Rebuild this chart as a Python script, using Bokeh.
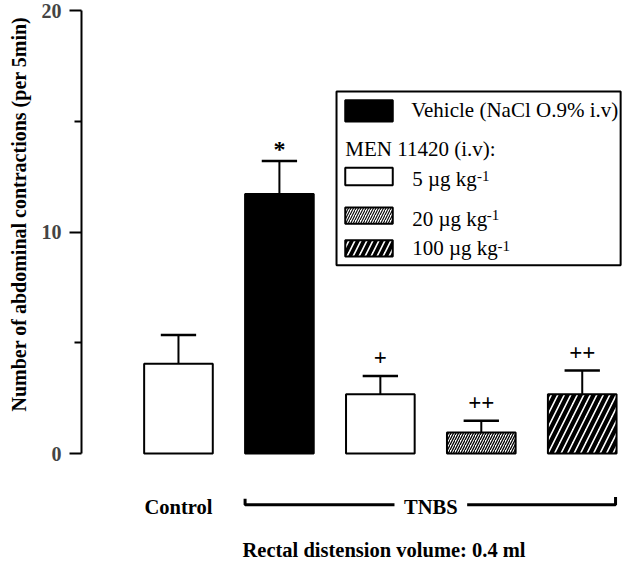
import numpy as np
from bokeh.plotting import figure
from bokeh.models import ColumnDataSource, LinearAxis, FixedTicker, Range1d, Title
from bokeh.core.properties import value
from bokeh.embed import file_html
from bokeh.resources import INLINE

# ---------------- data ----------------
groups = ["Control", "Vehicle", "5 µg kg-1", "20 µg kg-1", "100 µg kg-1"]
means = [4.05, 11.72, 2.68, 0.95, 2.67]
sems = [1.30, 1.48, 0.82, 0.53, 1.08]
marks = ["", "*", "+", "++", "++"]
y_ticks = [0, 10, 20]
y_minor = [5, 15]
vehicle_label = "Vehicle (NaCl O.9% i.v)"
legend_title = "MEN 11420 (i.v):"
legend_doses = ["5 µg kg", "20 µg kg", "100 µg kg"]
legend_sup = ["-1", "-1", "-1"]
group_labels = ["Control", "TNBS"]
x_label = "Rectal distension volume: 0.4 ml"
y_label = "Number of abdominal contractions (per 5min)"

SERIF = "Liberation Serif"
W, H = 624, 561
LEFT = 78
SX = 101.5      # px per x unit
SY = 22.15      # px per y unit
Y0 = 453        # canvas y of value 0

# helpers: reference-picture pixel -> data coordinates (layout only)
def X(px):
    return (px - 180.0) / 104.1

def Y(py):
    return (466.0 - py) / 22.95

x_start = X(80)
x_end = x_start + (W - LEFT) / SX
y_end = Y0 / SY
y_start = -(H - Y0) / SY

p = figure(width=W, height=H, x_range=Range1d(x_start, x_end), y_range=Range1d(y_start, y_end),
           x_axis_location=None, y_axis_location=None, toolbar_location=None,
           output_backend="svg", min_border_left=LEFT, min_border_right=0,
           min_border_top=0, min_border_bottom=0, outline_line_color=None,
           background_fill_color="white", border_fill_color="white")
p.grid.visible = False

yaxis = LinearAxis(ticker=FixedTicker(ticks=y_ticks, minor_ticks=y_minor), bounds=(0, 20),
                   axis_line_width=2, major_tick_line_width=2, minor_tick_line_width=2,
                   major_tick_in=0, major_tick_out=12, minor_tick_in=0, minor_tick_out=7,
                   major_label_text_font=SERIF, major_label_text_font_style="bold",
                   major_label_text_font_size="20px", major_label_standoff=8)
p.add_layout(yaxis, "left")

# y axis title (as a left title so it can sit outside the frame)
p.add_layout(Title(text=y_label, align="right", offset=16, text_font=SERIF,
                   text_font_style="bold", text_font_size="20px", standoff=14,
                   vertical_align="top", text_color="black"), "left")

# ---------------- bars ----------------
xs = list(range(len(groups)))
fills = ["white", "black", "white", "white", "white"]
hatches = [" ", " ", " ", "/", "/"]
hscale = [1, 1, 1, 5, 13]
hweight = [1, 1, 1, 1.3, 4.2]
src = ColumnDataSource(dict(x=xs, top=means, fill=fills, hatch=hatches, hs=hscale, hw=hweight))
p.vbar(x="x", top="top", bottom=0, width=0.68, fill_color="fill", line_color="black",
       line_width=2, hatch_pattern="hatch", hatch_scale="hs", hatch_weight="hw",
       hatch_color="black", source=src)

tops = [m + s for m, s in zip(means, sems)]
p.segment(x0=xs, y0=means, x1=xs, y1=tops, line_width=2, line_color="black")
cap = 0.175
p.segment(x0=[x - cap for x in xs], y0=tops, x1=[x + cap for x in xs], y1=tops,
          line_width=2.5, line_color="black")

star = [i for i, m in enumerate(marks) if m == "*"]
plus = [i for i, m in enumerate(marks) if m.startswith("+")]
p.text(x=[xs[i] for i in star], y=[tops[i] for i in star], text=[marks[i] for i in star],
       text_font=value(SERIF), text_font_style="bold", text_font_size="24px", text_align="center",
       text_baseline="middle", y_offset=-12, text_color="black")
p.text(x=[xs[i] for i in plus], y=[tops[i] for i in plus], text=[marks[i] for i in plus],
       text_font=value(SERIF), text_font_style="bold", text_font_size="23px", text_align="center",
       text_baseline="middle", y_offset=-18, text_color="black")

# ---------------- group labels & bracket ----------------
p.text(x=[0, 2.5], y=[Y(521)] * 2, text=group_labels, text_font=value(SERIF),
       text_font_style="bold", text_font_size="20.5px", text_align="center",
       text_baseline="middle", text_color="black")
bl, br, gap = 1 - 0.34, 4.33, 0.36
p.multi_line(xs=[[bl, bl, 2.5 - gap], [2.5 + gap, br, br]],
             ys=[[Y(513), Y(519), Y(519)], [Y(519), Y(519), Y(511)]],
             line_width=3, line_color="black")
p.text(x=[X(392)], y=[Y(566)], text=[x_label], text_font=value(SERIF),
       text_font_style="bold", text_font_size="20.5px", text_align="center",
       text_baseline="middle", text_color="black")

# ---------------- legend ----------------
p.quad(left=[X(343)], right=[X(636)], top=[Y(91)], bottom=[Y(271)], fill_color="white",
       line_color="black", line_width=2)
sw = ColumnDataSource(dict(
    left=[X(352)] * 4, right=[X(401)] * 4,
    top=[Y(100), Y(170), Y(211), Y(245)], bottom=[Y(122), Y(188), Y(228), Y(262)],
    fill=["black", "white", "white", "white"], hatch=[" ", " ", "/", "/"],
    hs=[1, 1, 5, 12], hw=[1, 1, 1.1, 3.8]))
p.quad(left="left", right="right", top="top", bottom="bottom", fill_color="fill",
       line_color="black", line_width=2, hatch_pattern="hatch", hatch_scale="hs",
       hatch_weight="hw", hatch_color="black", source=sw)
p.text(x=[X(420), X(352)], y=[Y(110.5), Y(150)], text=[vehicle_label, legend_title],
       text_font=value(SERIF), text_font_size="21px", text_align="left",
       text_baseline="middle", text_color="black")
p.text(x=[X(421)] * 3, y=[Y(181.5), Y(223.5), Y(253)], text=legend_doses,
       text_font=value(SERIF), text_font_size="21px", text_align="left",
       text_baseline="middle", text_color="black")
p.text(x=[X(488), X(498), X(509)], y=[Y(178.5), Y(219), Y(251)], text=legend_sup,
       text_font=value(SERIF), text_font_size="15px", text_align="left",
       text_baseline="middle", text_color="black")

open("out.html", "w").write(file_html(p, INLINE))
